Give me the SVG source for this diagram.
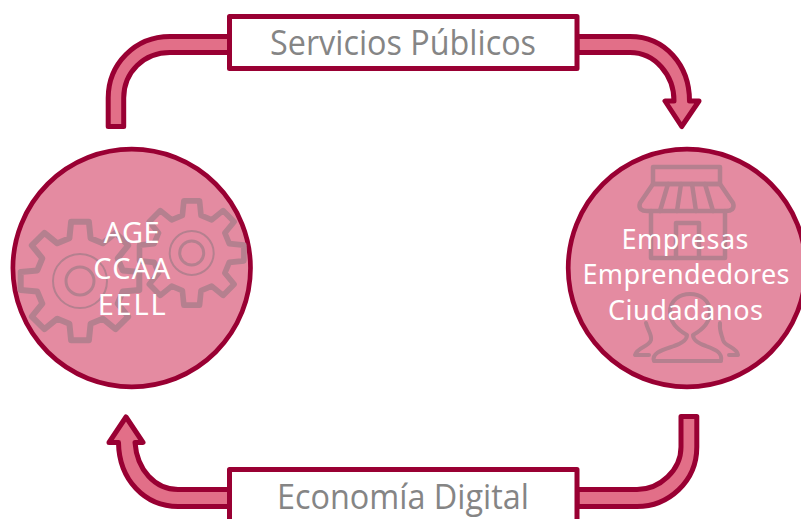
<svg xmlns="http://www.w3.org/2000/svg" width="801" height="519" viewBox="0 0 801 519">
<style>
.arrow{fill:#E26F88;stroke:#990033;stroke-width:5;stroke-linejoin:round}
.box{fill:#fff;stroke:#990033;stroke-width:5;stroke-linejoin:round}
.label{font-family:"Open Sans","Liberation Sans",sans-serif;font-size:34px;fill:#858585;text-anchor:middle}
.disc{fill:#E48BA1;stroke:#990033;stroke-width:4.7}
.icon{fill:none;stroke:#B5808F;stroke-linejoin:round;stroke-linecap:round}
.cap{font-family:"Noto Sans","Liberation Sans",sans-serif;font-size:27px;fill:#fff;text-anchor:middle}
.cap-l{font-size:29px}
</style>
<defs>
<path id="gear" d="M-10.6 -42.7L-8.9 -59.3H8.9L10.6 -42.7L22.7 -37.7L35.6 -48.2L48.2 -35.6L37.7 -22.7L42.7 -10.6L59.3 -8.9V8.9L42.7 10.6L37.7 22.7L48.2 35.6L35.6 48.2L22.7 37.7L10.6 42.7L8.9 59.3H-8.9L-10.6 42.7L-22.7 37.7L-35.6 48.2L-48.2 35.6L-37.7 22.7L-42.7 10.6L-59.3 8.9V-8.9L-42.7 -10.6L-37.7 -22.7L-48.2 -35.6L-35.6 -48.2L-22.7 -37.7Z"/>
</defs>
<g id="connectors">
<path class="arrow" d="M108.2 126.5H123.7V98C123.7 72 144 52.5 170 52.5H230V36.5H170C135 36.5 108.2 64 108.2 98Z"/>
<path class="arrow" d="M577 36.5H630C665 36.5 689.5 65 689.5 101H699L681.7 126.5L665 101H674C674 75 655 52.5 630 52.5H577Z"/>
<path class="arrow" d="M681 416.5H696.8V447C696.8 482 668 506.5 637 506.5H577V489.5H637C660 489.5 681 470 681 447Z"/>
<path class="arrow" d="M126 417L143 442.5H135C137 470 155 489.5 178 489.5H230V506.5H178C145 506.5 119 480 118.5 442.5H109Z"/>
</g>
<g id="node-servicios">
<rect class="box" x="229.5" y="16.5" width="347.5" height="52"/>
<text class="label" x="403" y="55" textLength="266" lengthAdjust="spacingAndGlyphs">Servicios Públicos</text>
</g>
<g id="node-economia">
<rect class="box" x="229.5" y="469.5" width="347.5" height="60"/>
<text class="label" x="403" y="509" textLength="252" lengthAdjust="spacingAndGlyphs">Economía Digital</text>
</g>
<g id="node-administraciones">
<circle class="disc" cx="131.7" cy="268" r="118.8"/>
<use href="#gear" class="icon" stroke-width="6" transform="translate(80 281)"/>
<use href="#gear" class="icon" stroke-width="6.4" transform="translate(191.7 253) scale(.88)"/>
<g class="icon">
<circle cx="80" cy="281" r="27" stroke-width="2"/>
<circle cx="80" cy="281" r="14" stroke-width="3"/>
<circle cx="191.7" cy="253" r="22" stroke-width="2"/>
<circle cx="191.7" cy="253" r="12" stroke-width="3"/>
</g>
<text class="cap cap-l" x="131.7" y="243" textLength="56">AGE</text>
<text class="cap cap-l" x="131.7" y="279" textLength="77">CCAA</text>
<text class="cap cap-l" x="131.7" y="315" textLength="68">EELL</text>
</g>
<g id="node-empresas">
<circle class="disc" cx="687" cy="268" r="118.8"/>
<g class="icon" stroke-width="4.5">
<rect x="653" y="167" width="67" height="17"/>
<path d="M653 184H720L733 203C735 209 731 211 726 211H647C642 211 638 209 640 203Z"/>
<path d="M668 184L660 211M681 184L677 211M692 184L696 211M705 184L713 211"/>
<path d="M651 211V258H725V211"/>
<path d="M676 258V223H699V258"/>
</g>
<g class="icon" stroke-width="4">
<path d="M654 361H721C723 352 714 349 706 346C697 343 693 340 693 335C702 330 710 322 710 312C710 300 700 294 690 294C680 294 670 300 670 312C670 322 678 330 687 335C687 340 683 343 674 346C666 349 651 352 654 361Z"/>
<path d="M646 323C648 331 652 334 651 340C649 347 637 347 635 355H649"/>
<path d="M720 323C719 331 722 335 723 340C725 347 737 347 738 355H729"/>
</g>
<text class="cap" x="685" y="249" textLength="127">Empresas</text>
<text class="cap" x="686" y="284" textLength="207">Emprendedores</text>
<text class="cap" x="685.5" y="320" textLength="155">Ciudadanos</text>
</g>
</svg>
